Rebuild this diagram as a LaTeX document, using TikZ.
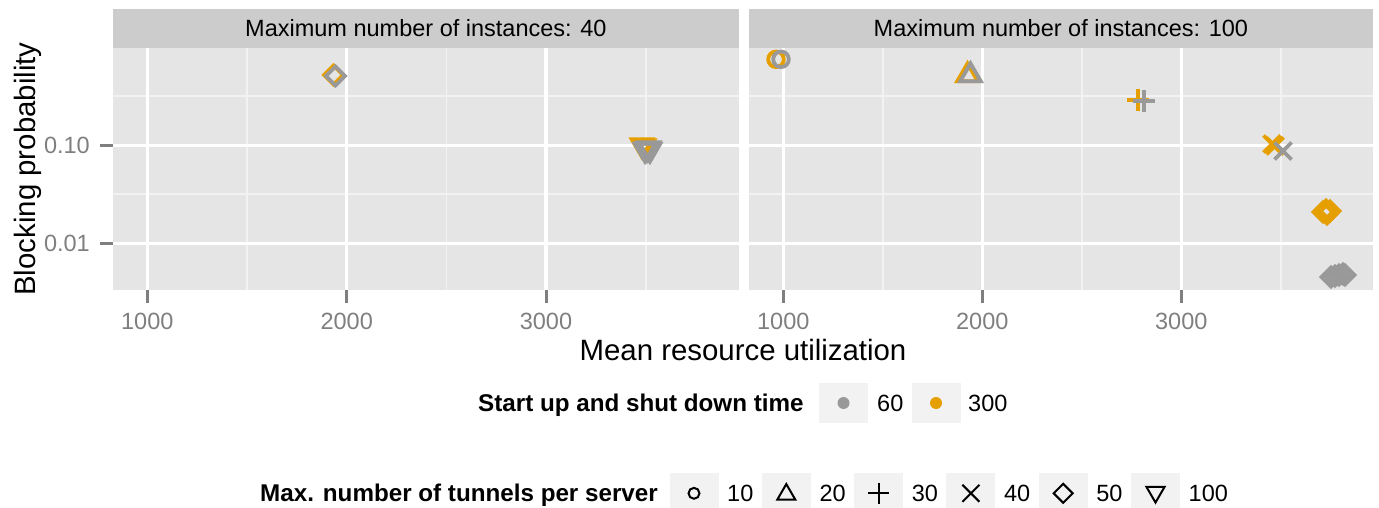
\documentclass[tikz,border=0pt]{standalone}
\usepackage{fontspec}
\setmainfont{Liberation Sans}

\definecolor{panelbg}{HTML}{E5E5E5}
\definecolor{stripbg}{HTML}{CCCCCC}
\definecolor{gridminor}{HTML}{F2F2F2}
\definecolor{keybg}{HTML}{F2F2F2}
\definecolor{ticktext}{HTML}{7F7F7F}
\definecolor{ptgrey}{HTML}{999999}
\definecolor{ptorange}{HTML}{E69F00}

\tikzset{
  majorline/.style={white, line width=3.2pt},
  minorline/.style={gridminor, line width=1.6pt},
  tickmark/.style={ticktext, line width=3pt},
  ticklabel/.style={inner sep=0pt, text=ticktext, font=\fontsize{23.5}{28}\selectfont},
  striplabel/.style={inner sep=0pt, font=\fontsize{23.5}{28}\selectfont},
  axistitle/.style={inner sep=0pt, font=\fontsize{29.4}{34}\selectfont},
  legtitle/.style={inner sep=0pt, font=\fontsize{24.2}{29}\selectfont\bfseries},
  leglabel/.style={inner sep=0pt, font=\fontsize{23.5}{28}\selectfont},
  keybox/.style={fill=keybg, minimum width=49pt, minimum height=40pt, inner sep=0pt},
  grey pt/.style={ptgrey, line width=3.8pt},
  orange pt/.style={ptorange, line width=3.8pt},
  key pt/.style={black, line width=2pt},
  pics/circpt/.style={code={\draw (0,0) circle (7.8pt);}},
  pics/tript/.style={code={\draw (0,-10.5) -- (10.3,7.3) -- (-10.3,7.3) -- cycle;}},
  pics/pluspt/.style={code={\draw (-11,0) -- (11,0) (0,-11) -- (0,11);}},
  pics/crosspt/.style={code={\draw (-8.5,-8.5) -- (8.5,8.5) (-8.5,8.5) -- (8.5,-8.5);}},
  pics/diampt/.style={code={\draw (0,-9.5) -- (9.5,0) -- (0,9.5) -- (-9.5,0) -- cycle;}},
  pics/tridownpt/.style={code={\draw (0,10.5) -- (10.3,-7.3) -- (-10.3,-7.3) -- cycle;}},
}

\begin{document}
\begin{tikzpicture}[x=1pt, y=-1pt]
    \useasboundingbox (0,0) rectangle (1379,508);

    % Panels and strips
    \fill[panelbg] (113,47.7) rectangle (738.7,290.3);
    \fill[panelbg] (749,47.7) rectangle (1372.7,290.3);
    \fill[stripbg] (113,9) rectangle (738.7,47.7);
    \fill[stripbg] (749,9) rectangle (1372.7,47.7);
    \node[striplabel, anchor=base] (strip40) at (425.9,36.7) {Maximum number of instances: 40};
    \node[striplabel, anchor=base] (strip100) at (1060.9,36.7) {Maximum number of instances: 100};

    % Minor grid
    \draw[minorline] (113,96.3) -- (738.7,96.3);
    \draw[minorline] (113,194) -- (738.7,194);
    \draw[minorline] (749,96.3) -- (1372.7,96.3);
    \draw[minorline] (749,194) -- (1372.7,194);
    \draw[minorline] (247,47.7) -- (247,290.3);
    \draw[minorline] (446.4,47.7) -- (446.4,290.3);
    \draw[minorline] (645.7,47.7) -- (645.7,290.3);
    \draw[minorline] (882.8,47.7) -- (882.8,290.3);
    \draw[minorline] (1081.8,47.7) -- (1081.8,290.3);
    \draw[minorline] (1280.8,47.7) -- (1280.8,290.3);

    % Major grid
    \draw[majorline] (113,145.3) -- (738.7,145.3);
    \draw[majorline] (113,243.7) -- (738.7,243.7);
    \draw[majorline] (749,145.3) -- (1372.7,145.3);
    \draw[majorline] (749,243.7) -- (1372.7,243.7);
    \draw[majorline] (147.3,47.7) -- (147.3,290.3);
    \draw[majorline] (346.7,47.7) -- (346.7,290.3);
    \draw[majorline] (546,47.7) -- (546,290.3);
    \draw[majorline] (783.3,47.7) -- (783.3,290.3);
    \draw[majorline] (982.3,47.7) -- (982.3,290.3);
    \draw[majorline] (1181.3,47.7) -- (1181.3,290.3);

    % Axes: ticks and labels
    \draw[tickmark] (100,145.3) -- (113,145.3);
    \draw[tickmark] (100,243.7) -- (113,243.7);
    \node[ticklabel, anchor=base east] (y010) at (90,153.3) {0.10};
    \node[ticklabel, anchor=base east] (y001) at (90,251.7) {0.01};
    \draw[tickmark] (147.3,290.3) -- (147.3,302.5);
    \draw[tickmark] (346.7,290.3) -- (346.7,302.5);
    \draw[tickmark] (546,290.3) -- (546,302.5);
    \draw[tickmark] (783.3,290.3) -- (783.3,302.5);
    \draw[tickmark] (982.3,290.3) -- (982.3,302.5);
    \draw[tickmark] (1181.3,290.3) -- (1181.3,302.5);
    \node[ticklabel, anchor=base] (xa1000) at (147.3,329.3) {1000};
    \node[ticklabel, anchor=base] (xa2000) at (346.7,329.3) {2000};
    \node[ticklabel, anchor=base] (xa3000) at (546,329.3) {3000};
    \node[ticklabel, anchor=base] (xb1000) at (783.3,329.3) {1000};
    \node[ticklabel, anchor=base] (xb2000) at (982.3,329.3) {2000};
    \node[ticklabel, anchor=base] (xb3000) at (1181.3,329.3) {3000};
    \node[axistitle, anchor=base, rotate=90] (ytitle) at (35,169) {Blocking probability};
    \node[axistitle, anchor=base] (xtitle) at (743,360) {Mean resource utilization};

    % Points: 40 instances
    \pic[orange pt] at (333.5,75) {diampt};
    \pic[grey pt] at (335.5,76) {diampt};
    \pic[orange pt] at (642,146.5) {tridownpt};
    \pic[orange pt] at (644,147.5) {tridownpt};
    \pic[grey pt] at (645,151) {tridownpt};
    \pic[grey pt] at (647,150) {tridownpt};
    \pic[grey pt] at (649,149.5) {tridownpt};
    \pic[grey pt] at (650,151) {tridownpt};

    % Points: 100 instances
    \pic[orange pt] at (776,59.3) {circpt};
    \pic[grey pt] at (781,59.3) {circpt};
    \pic[orange pt] at (967.5,74) {tript};
    \pic[grey pt] at (970.5,74) {tript};
    \pic[orange pt] at (1138.3,100) {pluspt};
    \pic[grey pt] at (1144,101) {pluspt};
    \pic[orange pt] at (1272,144) {crosspt};
    \pic[orange pt] at (1275,146) {crosspt};
    \pic[grey pt] at (1283,151) {crosspt};
    \pic[orange pt] at (1323,212) {diampt};
    \pic[orange pt] at (1326,210) {diampt};
    \pic[orange pt] at (1330,211) {diampt};
    \pic[orange pt] at (1327,214) {diampt};
    \pic[grey pt] at (1331,277) {diampt};
    \pic[grey pt] at (1335,276) {diampt};
    \pic[grey pt] at (1339,275) {diampt};
    \pic[grey pt] at (1343,274) {diampt};
    \pic[grey pt] at (1345,275) {diampt};

    % Legend: start up and shut down time
    \node[legtitle, anchor=base west] (legtime) at (478,411.7) {Start up and shut down time};
    \node[keybox] (key60) at (843.5,403) {};
    \fill[ptgrey] (key60) circle (6pt);
    \node[leglabel, anchor=base west] (lab60) at (877,411.7) {60};
    \node[keybox] (key300) at (936,403) {};
    \fill[ptorange] (key300) circle (6pt);
    \node[leglabel, anchor=base west] (lab300) at (968,411.7) {300};

    % Legend: tunnels per server
    \node[legtitle, anchor=base west] (legtun) at (260,501.7) {Max. number of tunnels per server};
    \node[keybox] (key10) at (694,493.3) {};
    \pic[key pt, scale=0.7] at (key10) {circpt};
    \node[leglabel, anchor=base west] (lab10) at (727,501.7) {10};
    \node[keybox] (key20) at (786.3,493.3) {};
    \pic[key pt, scale=0.88] at (key20) {tript};
    \node[leglabel, anchor=base west] (lab20) at (819.3,501.7) {20};
    \node[keybox] (key30) at (878.6,493.3) {};
    \pic[key pt, scale=0.95] at (key30) {pluspt};
    \node[leglabel, anchor=base west] (lab30) at (911.6,501.7) {30};
    \node[keybox] (key40) at (970.9,493.3) {};
    \pic[key pt] at (key40) {crosspt};
    \node[leglabel, anchor=base west] (lab40) at (1003.9,501.7) {40};
    \node[keybox] (key50) at (1063.2,493.3) {};
    \pic[key pt] at (key50) {diampt};
    \node[leglabel, anchor=base west] (lab50) at (1096.2,501.7) {50};
    \node[keybox] (key100) at (1155.5,493.3) {};
    \pic[key pt, scale=0.88] at (key100) {tridownpt};
    \node[leglabel, anchor=base west] (lab100) at (1188.5,501.7) {100};
\end{tikzpicture}
\end{document}
